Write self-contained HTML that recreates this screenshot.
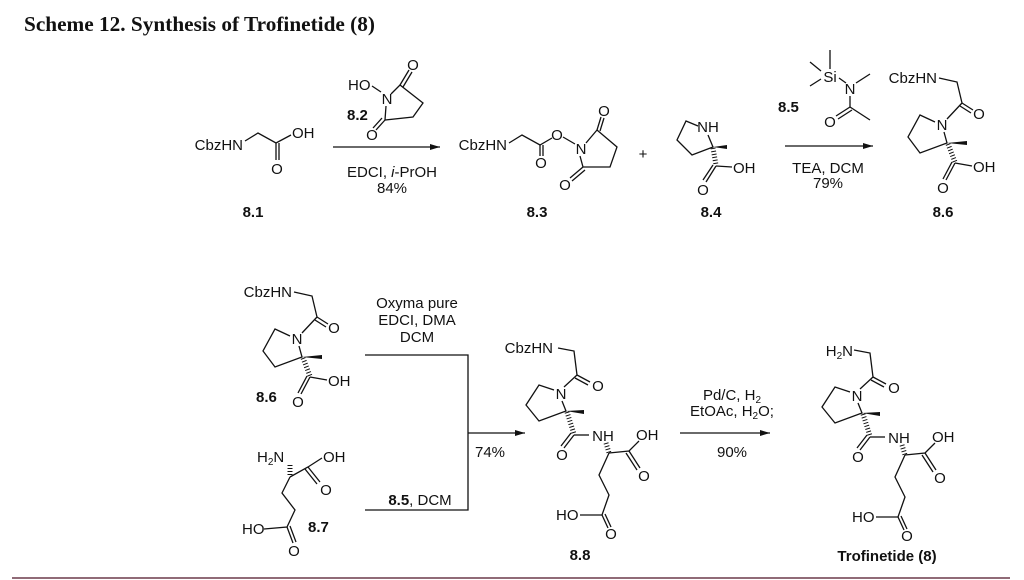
<!DOCTYPE html>
<html><head><meta charset="utf-8"><style>
html,body{margin:0;padding:0;background:#fff;}
svg{display:block;}
text{font-family:"Liberation Sans",Arial,sans-serif;font-size:15px;fill:#111;}
.b{font-weight:bold;}
line,polyline{stroke:#111;stroke-width:1.3;fill:none;}
.h{stroke-width:5;stroke-dasharray:1,2;}
</style></head><body>
<svg width="1024" height="580" viewBox="0 0 1024 580" xmlns="http://www.w3.org/2000/svg">
<defs><marker id="ar" markerWidth="10" markerHeight="6" refX="10" refY="3" orient="auto" markerUnits="userSpaceOnUse"><path d="M0,0 L10,3 L0,6 Z" fill="#111"/></marker></defs>
<text x="24" y="31" style="font-family:'Liberation Serif',serif;font-size:21px;font-weight:bold" textLength="351" lengthAdjust="spacingAndGlyphs">Scheme 12. Synthesis of Trofinetide (8)</text>
<line x1="12" y1="578" x2="1010" y2="578" style="stroke:#6b3a4a;stroke-width:1.5"/>

<!-- 8.1 -->
<text x="243" y="150" text-anchor="end">CbzHN</text>
<polyline points="245,141 258,133 276,143 291,135"/>
<text x="292" y="138">OH</text>
<line x1="276" y1="143" x2="276" y2="160"/><line x1="279" y1="143" x2="279" y2="160"/>
<text x="277" y="174" text-anchor="middle">O</text>
<text x="253" y="217" text-anchor="middle" class="b">8.1</text>

<!-- 8.2 -->
<text x="348" y="90">HO</text>
<line x1="372" y1="86" x2="381" y2="92"/>
<text x="387" y="104" text-anchor="middle">N</text>
<polyline points="391,94 400,85 423,103 413,117 385,120 386,106"/>
<line x1="400" y1="85" x2="409" y2="70"/><line x1="403" y1="87" x2="412" y2="72"/>
<text x="413" y="70" text-anchor="middle">O</text>
<line x1="385" y1="120" x2="376" y2="130"/><line x1="382" y1="118" x2="373" y2="128"/>
<text x="372" y="140" text-anchor="middle">O</text>
<text x="347" y="120" class="b">8.2</text>
<line x1="333" y1="147" x2="440" y2="147" marker-end="url(#ar)"/>
<text x="392" y="177" text-anchor="middle">EDCI, <tspan font-style="italic">i</tspan>-PrOH</text>
<text x="392" y="193" text-anchor="middle">84%</text>

<!-- 8.3 -->
<text x="507" y="150" text-anchor="end">CbzHN</text>
<polyline points="509,143 522,135 540,145 552,138"/>
<text x="557" y="140" text-anchor="middle">O</text>
<line x1="563" y1="137" x2="575" y2="144"/>
<line x1="540" y1="145" x2="540" y2="156"/><line x1="543" y1="145" x2="543" y2="156"/>
<text x="541" y="168" text-anchor="middle">O</text>
<text x="581" y="154" text-anchor="middle">N</text>
<polyline points="586,143 597,130 617,147 610,167 583,167 580,156"/>
<line x1="597" y1="130" x2="601" y2="117"/><line x1="600" y1="131" x2="604" y2="118"/>
<text x="604" y="116" text-anchor="middle">O</text>
<line x1="583" y1="167" x2="570" y2="178"/><line x1="585" y1="170" x2="572" y2="181"/>
<text x="565" y="190" text-anchor="middle">O</text>
<text x="537" y="217" text-anchor="middle" class="b">8.3</text>
<text x="643" y="159" text-anchor="middle">+</text>

<!-- 8.4 -->
<text x="708" y="132" text-anchor="middle">NH</text>
<polyline points="698,126 686,121 677,140 692,155 713,147 708,135"/>
<polygon points="713,147 727,145 727,149" fill="#111"/>
<line class="h" x1="713" y1="148" x2="716" y2="165"/>
<line x1="716" y1="166" x2="732" y2="167"/>
<text x="733" y="173">OH</text>
<line x1="716" y1="166" x2="706" y2="182"/><line x1="713" y1="165" x2="703" y2="180"/>
<text x="703" y="195" text-anchor="middle">O</text>
<text x="711" y="217" text-anchor="middle" class="b">8.4</text>

<!-- 8.5 -->
<text x="830" y="82" text-anchor="middle">Si</text>
<line x1="830" y1="50" x2="830" y2="69"/>
<line x1="810" y1="62" x2="821" y2="71"/>
<line x1="810" y1="86" x2="821" y2="79"/>
<line x1="839" y1="78" x2="846" y2="83"/>
<text x="850" y="94" text-anchor="middle">N</text>
<line x1="856" y1="83" x2="870" y2="74"/>
<line x1="850" y1="96" x2="850" y2="107"/>
<line x1="850" y1="107" x2="870" y2="120"/>
<line x1="850" y1="107" x2="836" y2="116"/><line x1="852" y1="110" x2="838" y2="119"/>
<text x="830" y="127" text-anchor="middle">O</text>
<text x="778" y="112" class="b">8.5</text>
<line x1="785" y1="146" x2="873" y2="146" marker-end="url(#ar)"/>
<text x="828" y="173" text-anchor="middle">TEA, DCM</text>
<text x="828" y="188" text-anchor="middle">79%</text>

<!-- 8.6 top -->
<g>
<text x="937" y="83" text-anchor="end">CbzHN</text>
<polyline points="939,78 957,82 962,103 947,119"/>
<line x1="962" y1="103" x2="973" y2="110"/><line x1="960" y1="106" x2="971" y2="113"/>
<text x="979" y="119" text-anchor="middle">O</text>
<text x="942" y="130" text-anchor="middle">N</text>
<polyline points="935,122 920,115 908,137 920,153 947,143 944,132"/>
<polygon points="947,143 967,141 967,145" fill="#111"/>
<line class="h" x1="948" y1="144" x2="955" y2="162"/>
<line x1="955" y1="163" x2="972" y2="166"/>
<text x="973" y="172">OH</text>
<line x1="955" y1="163" x2="946" y2="180"/><line x1="952" y1="162" x2="943" y2="179"/>
<text x="943" y="193" text-anchor="middle">O</text>
</g>
<text x="943" y="217" text-anchor="middle" class="b">8.6</text>

<!-- 8.6 bottom -->
<g transform="translate(-645,214)">
<text x="937" y="83" text-anchor="end">CbzHN</text>
<polyline points="939,78 957,82 962,103 947,119"/>
<line x1="962" y1="103" x2="973" y2="110"/><line x1="960" y1="106" x2="971" y2="113"/>
<text x="979" y="119" text-anchor="middle">O</text>
<text x="942" y="130" text-anchor="middle">N</text>
<polyline points="935,122 920,115 908,137 920,153 947,143 944,132"/>
<polygon points="947,143 967,141 967,145" fill="#111"/>
<line class="h" x1="948" y1="144" x2="955" y2="162"/>
<line x1="955" y1="163" x2="972" y2="166"/>
<text x="973" y="172">OH</text>
<line x1="955" y1="163" x2="946" y2="180"/><line x1="952" y1="162" x2="943" y2="179"/>
<text x="943" y="193" text-anchor="middle">O</text>
</g>
<text x="256" y="402" class="b">8.6</text>

<!-- bracket -->
<polyline points="365,355 468,355 468,510 365,510"/>
<line x1="468" y1="433" x2="525" y2="433" marker-end="url(#ar)"/>
<text x="417" y="308" text-anchor="middle">Oxyma pure</text>
<text x="417" y="325" text-anchor="middle">EDCI, DMA</text>
<text x="417" y="342" text-anchor="middle">DCM</text>
<text x="490" y="457" text-anchor="middle">74%</text>
<text x="420" y="505" text-anchor="middle"><tspan class="b">8.5</tspan>, DCM</text>

<!-- 8.7 -->
<text x="257" y="462">H<tspan font-size="10" dy="3">2</tspan><tspan dy="-3">N</tspan></text>
<line class="h" x1="290" y1="465" x2="290" y2="477"/>
<polyline points="290,477 308,467 322,458"/>
<text x="323" y="462">OH</text>
<line x1="308" y1="467" x2="320" y2="482"/><line x1="305" y1="469" x2="317" y2="484"/>
<text x="326" y="495" text-anchor="middle">O</text>
<polyline points="290,477 282,493 295,510 287,527 264,529"/>
<text x="242" y="534">HO</text>
<line x1="287" y1="527" x2="293" y2="543"/><line x1="290" y1="526" x2="296" y2="542"/>
<text x="294" y="556" text-anchor="middle">O</text>
<text x="308" y="532" class="b">8.7</text>

<!-- 8.8 -->
<g transform="translate(-296,-2)">
<polyline points="854,350 870,353 873,377 860,389"/>
<line x1="873" y1="377" x2="886" y2="384"/><line x1="871" y1="380" x2="884" y2="387"/>
<text x="894" y="393" text-anchor="middle">O</text>
<text x="857" y="401" text-anchor="middle">N</text>
<polyline points="850,392 835,387 822,407 835,423 862,413 858,403"/>
<polygon points="862,413 880,412 880,416" fill="#111"/>
<line class="h" x1="863" y1="414" x2="870" y2="436"/>
<line x1="870" y1="437" x2="885" y2="437"/>
<line x1="870" y1="437" x2="860" y2="450"/><line x1="867" y1="435" x2="857" y2="448"/>
<text x="858" y="462" text-anchor="middle">O</text>
<text x="899" y="443" text-anchor="middle">NH</text>
<line class="h" x1="902" y1="445" x2="905" y2="455"/>
<polyline points="905,455 925,453 935,443"/>
<text x="932" y="442">OH</text>
<line x1="925" y1="453" x2="936" y2="470"/><line x1="922" y1="455" x2="933" y2="472"/>
<text x="940" y="483" text-anchor="middle">O</text>
<polyline points="905,455 895,477 905,497 898,517 876,517"/>
<text x="852" y="522">HO</text>
<line x1="898" y1="517" x2="904" y2="530"/><line x1="901" y1="516" x2="907" y2="529"/>
<text x="907" y="541" text-anchor="middle">O</text>
</g>
<text x="553" y="353" text-anchor="end">CbzHN</text>
<text x="580" y="560" text-anchor="middle" class="b">8.8</text>

<line x1="680" y1="433" x2="770" y2="433" marker-end="url(#ar)"/>
<text x="732" y="400" text-anchor="middle">Pd/C, H<tspan font-size="10" dy="3">2</tspan></text>
<text x="732" y="416" text-anchor="middle">EtOAc, H<tspan font-size="10" dy="3">2</tspan><tspan dy="-3">O;</tspan></text>
<text x="732" y="457" text-anchor="middle">90%</text>

<!-- Trofinetide -->
<g>
<polyline points="854,350 870,353 873,377 860,389"/>
<line x1="873" y1="377" x2="886" y2="384"/><line x1="871" y1="380" x2="884" y2="387"/>
<text x="894" y="393" text-anchor="middle">O</text>
<text x="857" y="401" text-anchor="middle">N</text>
<polyline points="850,392 835,387 822,407 835,423 862,413 858,403"/>
<polygon points="862,413 880,412 880,416" fill="#111"/>
<line class="h" x1="863" y1="414" x2="870" y2="436"/>
<line x1="870" y1="437" x2="885" y2="437"/>
<line x1="870" y1="437" x2="860" y2="450"/><line x1="867" y1="435" x2="857" y2="448"/>
<text x="858" y="462" text-anchor="middle">O</text>
<text x="899" y="443" text-anchor="middle">NH</text>
<line class="h" x1="902" y1="445" x2="905" y2="455"/>
<polyline points="905,455 925,453 935,443"/>
<text x="932" y="442">OH</text>
<line x1="925" y1="453" x2="936" y2="470"/><line x1="922" y1="455" x2="933" y2="472"/>
<text x="940" y="483" text-anchor="middle">O</text>
<polyline points="905,455 895,477 905,497 898,517 876,517"/>
<text x="852" y="522">HO</text>
<line x1="898" y1="517" x2="904" y2="530"/><line x1="901" y1="516" x2="907" y2="529"/>
<text x="907" y="541" text-anchor="middle">O</text>
</g>
<text x="853" y="356" text-anchor="end">H<tspan font-size="10" dy="3">2</tspan><tspan dy="-3">N</tspan></text>
<text x="887" y="561" text-anchor="middle" class="b">Trofinetide (8)</text>
</svg>
</body></html>
